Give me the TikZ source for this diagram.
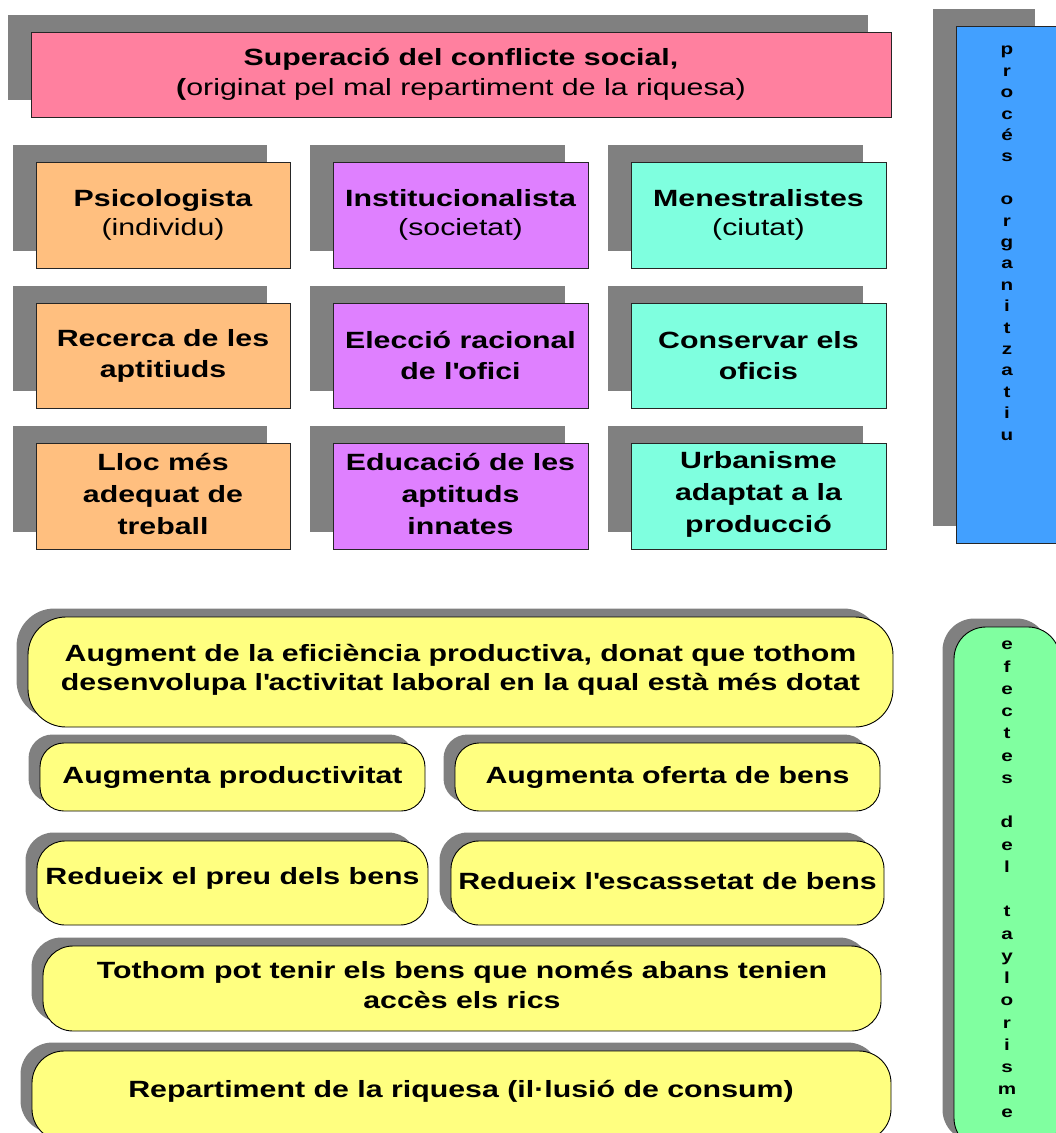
\documentclass[tikz,border=0pt]{standalone}
\usepackage{fontspec}
\setmainfont{Liberation Sans}[FakeStretch=1.29]
\usetikzlibrary{shadows}
\definecolor{cpink}{RGB}{255,128,159}
\definecolor{corange}{RGB}{255,191,127}
\definecolor{cviolet}{RGB}{223,128,255}
\definecolor{ccyan}{RGB}{127,255,223}
\definecolor{cblue}{RGB}{66,160,255}
\definecolor{cgreen}{RGB}{128,255,160}
\definecolor{cyellow}{RGB}{255,255,128}
\definecolor{cshadow}{RGB}{128,128,128}
\newcommand{\apos}{\textquotesingle}
\tikzset{
  bigshadow/.style={drop shadow={shadow xshift=-23pt, shadow yshift=17pt, fill=cshadow, opacity=1}},
  smallshadow/.style={drop shadow={shadow xshift=-11.5pt, shadow yshift=8.5pt, fill=cshadow, opacity=1}},
  txt/.style={font=\fontsize{23.5}{30}\selectfont},
  rbox/.style={draw=black!85, line width=0.8pt, bigshadow, inner sep=0pt, align=center, txt},
  ybox/.style={draw=black, line width=0.9pt, smallshadow, inner sep=0pt, align=center, fill=cyellow, txt},
  plain/.style={inner sep=0pt, align=center},
  vtext/.style={font=\fontsize{16}{21.4}\selectfont\bfseries, align=center, inner sep=0pt, anchor=north},
}
\begin{document}
\begin{tikzpicture}[x=1pt, y=-1pt]
\useasboundingbox (0,0) rectangle (1056,1133);
\clip (0,0) rectangle (1056,1133);
% top pink
\node[rbox, fill=cpink, minimum width=860, minimum height=85] (top) at (461,74.5)
  {{\bfseries Superació del conflicte social,}\\{\bfseries(}originat pel mal repartiment de la riquesa)};
% row 1
\node[rbox, fill=corange, minimum width=254, minimum height=106, font=\fontsize{23.5}{28.5}\selectfont] (a1) at (163,215)
  {{\bfseries Psicologista}\\(individu)};
\node[rbox, fill=cviolet, minimum width=255, minimum height=106, font=\fontsize{23.5}{28.5}\selectfont] (b1) at (460.5,215)
  {{\bfseries Institucionalista}\\(societat)};
\node[rbox, fill=ccyan, minimum width=255, minimum height=106, font=\fontsize{23.5}{28.5}\selectfont] (c1) at (758.5,215)
  {{\bfseries Menestralistes}\\(ciutat)};
% row 2
\node[rbox, fill=corange, minimum width=254, minimum height=105, font=\fontsize{23.5}{31}\selectfont\bfseries] (a2) at (163,355.5)
  {Recerca de les\\aptitiuds};
\node[rbox, fill=cviolet, minimum width=255, minimum height=105, font=\fontsize{23.5}{31}\selectfont\bfseries] (b2) at (460.5,355.5)
  {Elecció racional\\de l\apos ofici};
\node[rbox, fill=ccyan, minimum width=255, minimum height=105, font=\fontsize{23.5}{31}\selectfont\bfseries] (c2) at (758.5,355.5)
  {Conservar els\\oficis};
% row 3
\node[rbox, fill=corange, minimum width=254, minimum height=106] (a3) at (163,496) {};
\node[rbox, fill=cviolet, minimum width=255, minimum height=106] (b3) at (460.5,496) {};
\node[rbox, fill=ccyan, minimum width=255, minimum height=106] (c3) at (758.5,496) {};
\node[plain, font=\fontsize{23.5}{32}\selectfont\bfseries] (a3t) at (163,494) {Lloc més\\adequat de\\treball};
\node[plain, font=\fontsize{23.5}{32}\selectfont\bfseries] (b3t) at (460.5,494) {Educació de les\\aptituds\\innates};
\node[plain, font=\fontsize{23.5}{32}\selectfont\bfseries] (c3t) at (758.5,494) {Urbanisme\\adaptat a la\\producció};
% blue side
\node[rbox, fill=cblue, minimum width=102, minimum height=517] (blue) at (1007,284.5) {};
\node[vtext] (bluetxt) at (1007,46)
  {p\\r\\o\\c\\é\\s\\\mbox{}\\o\\r\\g\\a\\n\\i\\t\\z\\a\\t\\i\\u};
% yellow boxes
\node[ybox, rounded corners=38pt, minimum width=865, minimum height=110] (ya) at (460.5,672) {};
\node[plain, font=\fontsize{23.5}{29}\selectfont\bfseries] (yat) at (460.5,670)
  {Augment de la eficiència productiva, donat que tothom\\desenvolupa l\apos activitat laboral en la qual està més dotat};
\node[ybox, rounded corners=24pt, minimum width=385, minimum height=68, font=\fontsize{23.5}{29}\selectfont\bfseries] (yb) at (232.5,777)
  {Augmenta productivitat};
\node[ybox, rounded corners=24pt, minimum width=425, minimum height=68, font=\fontsize{23.5}{29}\selectfont\bfseries] (yc) at (667.5,777)
  {Augmenta oferta de bens};
\node[ybox, rounded corners=28pt, minimum width=391, minimum height=84] (yd) at (232.5,883) {};
\node[ybox, rounded corners=28pt, minimum width=433, minimum height=84] (ye) at (667.5,883) {};
\node[plain, font=\fontsize{23.5}{29}\selectfont\bfseries] (ydt) at (232.5,878) {Redueix el preu dels bens};
\node[plain, font=\fontsize{23.5}{29}\selectfont\bfseries] (yet) at (667.5,881) {Redueix l\apos escassetat de bens};
\node[ybox, rounded corners=30pt, minimum width=838, minimum height=85] (yf) at (462,988.5) {};
\node[plain, font=\fontsize{23.5}{30}\selectfont\bfseries] (yft) at (462,985)
  {Tothom pot tenir els bens que només abans tenien\\accès els rics};
\node[ybox, rounded corners=32pt, minimum width=859, minimum height=90] (yg) at (461.5,1096) {};
\node[plain, font=\fontsize{23.5}{29}\selectfont\bfseries] (ygt) at (461,1091)
  {Repartiment de la riquesa (il·lusió de consum)};
% green side
\node[ybox, fill=cgreen, rounded corners=32pt, minimum width=106, minimum height=523] (green) at (1007,888.5) {};
\node[vtext, font=\fontsize{16}{22.25}\selectfont\bfseries] (greentxt) at (1007,641)
  {e\\f\\e\\c\\t\\e\\s\\\mbox{}\\d\\e\\l\\\mbox{}\\t\\a\\y\\l\\o\\r\\i\\s\\m\\e};
\end{tikzpicture}
\end{document}
